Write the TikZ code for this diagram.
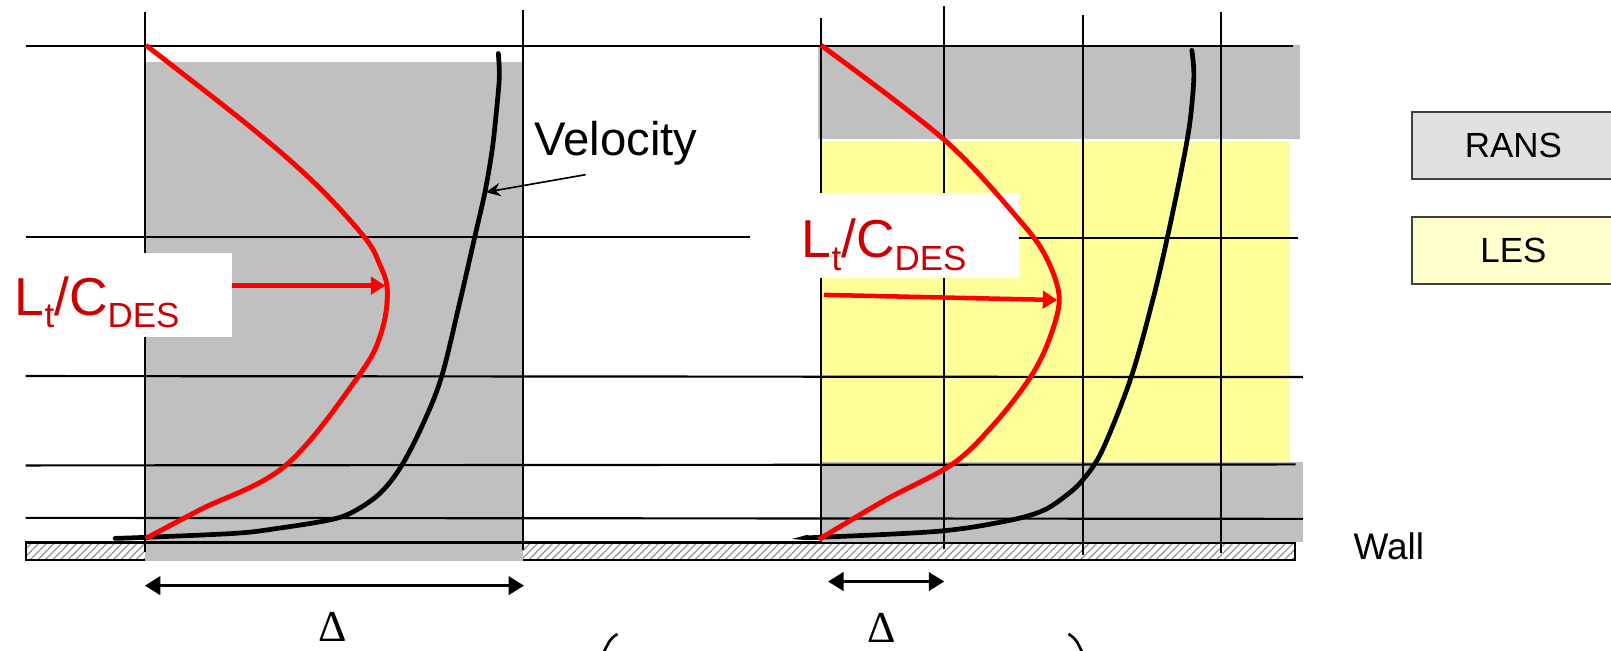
\documentclass[tikz,border=0pt]{standalone}
\usepackage{fontspec}
\setmainfont{Liberation Sans}
\newfontfamily\deltafont{Liberation Serif}
\usetikzlibrary{arrows.meta,patterns.meta}
\definecolor{rgray}{HTML}{C0C0C0}
\definecolor{ryellow}{HTML}{FFFF99}
\definecolor{lgray}{HTML}{E0E0E0}
\definecolor{lyellow}{HTML}{FFFFCC}
\definecolor{lblred}{HTML}{CC0000}
\definecolor{boxedge}{HTML}{404040}
\newcommand{\LtCdes}{L\raisebox{-6pt}{\fontsize{17}{17}\selectfont t}/C\raisebox{-6pt}{\fontsize{17}{17}\selectfont DES}}
\begin{document}
\begin{tikzpicture}[x=0.5pt,y=-0.5pt,
  gridline/.style={line width=1.05pt},
  velprof/.style={line width=2.3pt, line cap=round, black},
  redprof/.style={line width=2.4pt, red},
  redarrow/.style={line width=2.2pt, red, -{Triangle[length=7pt,width=8.5pt]}},
  deltaarrow/.style={line width=1.2pt, {Triangle[length=7.5pt,width=9pt]}-{Triangle[length=7.5pt,width=9pt]}},
  lbltext/.style={inner sep=0pt, text=lblred, font=\fontsize{26}{26}\selectfont},
  whitebox/.style={fill=white, draw=none},
  legbox/.style={draw=boxedge, line width=1pt},
  legtext/.style={inner sep=0pt, font=\fontsize{17}{17}\selectfont},
  deltatext/.style={inner sep=0pt, font=\deltafont\fontsize{21.5}{21.5}\selectfont},
]
\useasboundingbox (0,0) rectangle (1568,633);
\clip (0,0) rectangle (1568,633);

% wall
\path[pattern={Lines[angle=45,distance=2.6pt,line width=0.6pt]}, pattern color=gray!85] (25,528) rectangle (1260,545);
\draw[line width=1pt] (25,528) rectangle (1260,545);
\draw[line width=1.6pt] (25,528) -- (1260,528);

% shaded regions
\fill[rgray] (141,60) rectangle (509,546);
\fill[rgray] (796,44) rectangle (1265,135);
\fill[ryellow] (800,138) rectangle (1256,450);
\fill[rgray] (798,450) rectangle (1268,528);
\draw[line width=1pt] (141,528) -- (509,528);

% horizontal grid lines
\draw[gridline] (25,45) -- (1258,45);
\draw[gridline] (25,231) -- (730,231);
\draw[gridline] (900,232) -- (1263,232);
\draw[gridline] (25,366) -- (1268,367);
\draw[gridline] (25,453) -- (1261,452);
\draw[gridline] (25,504) -- (1268,505);

% vertical grid lines
\draw[gridline] (141,12) -- (141,537);
\draw[gridline] (509,10) -- (509,535);
\draw[gridline] (799,18) -- (799,528);
\draw[gridline] (919,6) -- (919,534);
\draw[gridline] (1054,15) -- (1054,540);
\draw[gridline] (1188,12) -- (1188,538);

% label boxes
\fill[whitebox] (0,246) rectangle (226,328);
\fill[whitebox] (760,188) rectangle (992,271);

% velocity profiles
\draw[velprof] plot[smooth,tension=0.55] coordinates {(112,524) (141,523) (230,519) (272,514) (321,506) (344,498) (370,480) (391,453) (412,412) (430,366) (448,292) (462,231) (472,187) (479,146) (483,110) (486,75) (485,52)};
\draw[velprof] plot[smooth,tension=0.55] coordinates {(786,523) (797,523) (914,517) (980,507) (1015,497) (1038,482) (1054,467) (1073,438) (1101,367) (1122,292) (1136,232) (1150,165) (1158,120) (1162,75) (1160,49)};

% length-scale profiles
\draw[redprof] plot[smooth,tension=0.6] coordinates {(142,44) (243,123) (306,178) (354,230) (369,256) (377,283) (371,324) (349,366) (278,453) (195,496) (142,524)};
\draw[redprof] plot[smooth,tension=0.55] coordinates {(799,44) (919,136) (992,214) (1018,250) (1031,290) (1021,331) (1003,367) (970,410) (928,451) (861,487) (797,525)};

% labels L_t/C_DES
\node[lbltext, anchor=base west] (lt1) at (14,307) {\LtCdes};
\node[lbltext, anchor=base west] (lt2) at (780,251) {\LtCdes};
\coordinate (box1) at (226,278);
\coordinate (tip1) at (375,278);
\draw[redarrow] (box1) -- (tip1);
\coordinate (box2) at (802,287);
\coordinate (tip2) at (1029,292);
\draw[redarrow] (box2) -- (tip2);

% velocity label
\node[inner sep=0pt, anchor=base west, font=\fontsize{23}{23}\selectfont] (veltxt) at (520,151) {Velocity};
\coordinate (velfrom) at (570,170);
\coordinate (velto) at (473,187);
\draw[line width=0.8pt, -{Stealth[length=7pt,width=6.5pt]}] (velfrom) -- (velto);

% legend
\draw[legbox, fill=lgray] (1374,109) rectangle (1640,174);
\node[legtext] (rans) at (1473,142) {RANS};
\draw[legbox, fill=lyellow] (1374,211) rectangle (1640,276);
\node[legtext] (les) at (1473,244) {LES};

% wall label
\node[inner sep=0pt, anchor=base west, font=\fontsize{18}{18}\selectfont] (wall) at (1317,545) {Wall};

% Delta arrows
\coordinate (d1a) at (141,570);
\coordinate (d1b) at (510,570);
\draw[deltaarrow] (d1a) -- (d1b);
\coordinate (d2a) at (806,566);
\coordinate (d2b) at (919,566);
\draw[deltaarrow] (d2a) -- (d2b);
\node[deltatext, anchor=base] (delta1) at (324,624) {Δ};
\node[deltatext, anchor=base] (delta2) at (858,625) {Δ};

% cut-off parentheses
\draw[line width=1.3pt] (601,617) .. controls (594,622) .. (588,634);
\draw[line width=1.3pt] (1040,617) .. controls (1047,622) .. (1053,634);
\end{tikzpicture}
\end{document}
